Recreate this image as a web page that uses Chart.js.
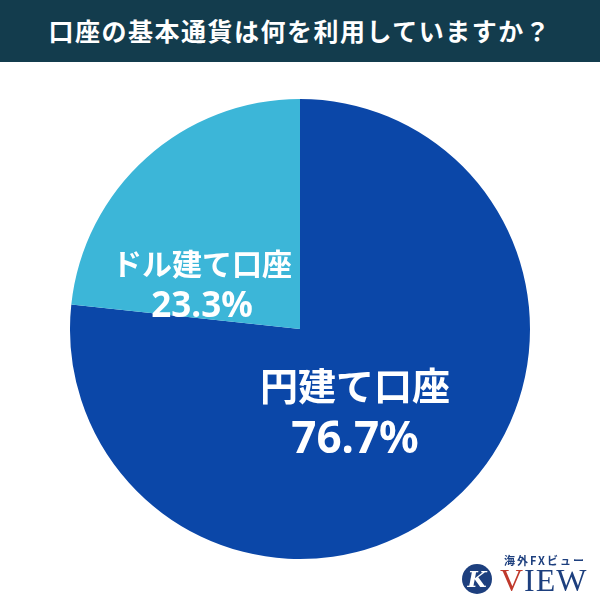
<!DOCTYPE html>
<html>
<head>
<meta charset="utf-8">
<script src="https://cdn.jsdelivr.net/npm/chart.js@4"></script>
<style>
  body { margin: 0; width: 600px; height: 600px; background: #fff; position: relative; overflow: hidden; font-family: "Noto Sans CJK JP", sans-serif; }
  #title { height: 62px; background: #133c4d; color: #fff; font-size: 25px; font-weight: bold; text-align: center; line-height: 60px; letter-spacing: 1.5px; }
  #wrap { position: absolute; left: 0; top: 62px; width: 600px; height: 538px; }
  #logo { position: absolute; left: 462px; top: 552px; width: 130px; height: 44px; }
  #logo .mark { position: absolute; left: 0; top: 12px; width: 30px; height: 30px; border-radius: 50%; background: #1d3f7e; color: #fff; font: bold 22px "DejaVu Serif"; text-align: center; line-height: 30px; font-style: italic; }
  #logo .small { position: absolute; left: 42px; top: 0; font: bold 11px "Noto Sans CJK JP"; color: #1d3f7e; letter-spacing: 2px; }
  #logo .big { position: absolute; left: 38px; top: 10px; font: 32px "Liberation Serif"; color: #1d3f7e; letter-spacing: 1px; }
  #logo .big span { color: #c0392b; }
</style>
</head>
<body>
<div id="title">口座の基本通貨は何を利用していますか？</div>
<div id="wrap"><canvas id="myChart"></canvas></div>
<div id="logo"><div class="mark">K</div><div class="small">海外FXビュー</div><div class="big"><span>V</span>IEW</div></div>
<script>
//Chart Data
var categories = ["円建て口座", "ドル建て口座"];
var values = [76.7, 23.3];
var colors = ["#0b47a8", "#3cb6d8"];

//Label plugin - draws name and percentage inside each slice
var sliceLabels = {
	id: 'sliceLabels',
	afterDatasetsDraw: function (chart) {
		var ctx = chart.ctx;
		var meta = chart.getDatasetMeta(0);
		var spots = [{dx: 55, dy: 84, f1: 38, f2: 44}, {dx: -98, dy: -44, f1: 30, f2: 35}];
		meta.data.forEach(function (arc, i) {
			var x = arc.x + spots[i].dx, y = arc.y + spots[i].dy;
			ctx.save();
			ctx.fillStyle = "#fff";
			ctx.textAlign = "center";
			ctx.textBaseline = "middle";
			ctx.font = "bold " + spots[i].f1 + "px 'Noto Sans CJK JP'";
			ctx.fillText(categories[i], x, y - spots[i].f1 * 0.72);
			ctx.font = "bold " + spots[i].f2 + "px 'Noto Sans'";
			ctx.fillText(values[i].toFixed(1) + "%", x, y + spots[i].f2 * 0.62);
			ctx.restore();
		});
	}
};

var myChart = new Chart(document.getElementById('myChart'), {
	type: 'pie',
	data: {
		labels: categories,
		datasets: [{ data: values, backgroundColor: colors, borderWidth: 0 }]
	},
	options: {
		responsive: true,
		maintainAspectRatio: false,
		animation: false,
		layout: { padding: { top: 36, bottom: 40, left: 70, right: 70 } },
		plugins: { legend: { display: false }, tooltip: { enabled: false } }
	},
	plugins: [sliceLabels]
});
</script>
</body>
</html>
